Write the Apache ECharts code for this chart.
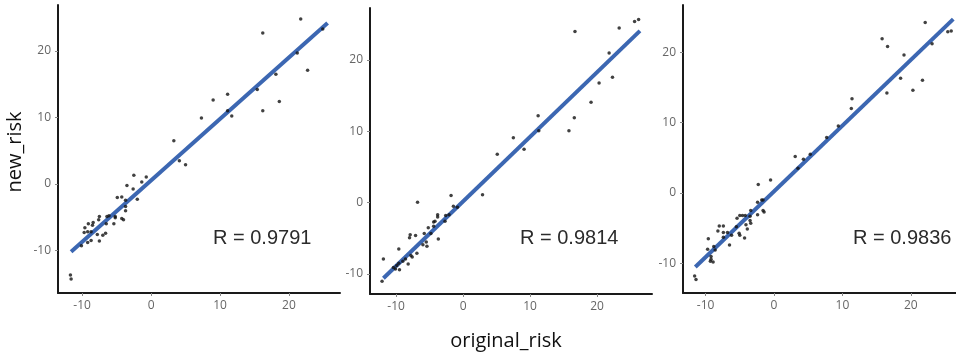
<!DOCTYPE html>
<html>
<head>
<meta charset="utf-8">
<script src="https://cdn.jsdelivr.net/npm/echarts@6/dist/echarts.min.js"></script>
<style>
  html, body { margin: 0; padding: 0; background: #fff; }
  #chart_main { width: 956px; height: 353px; }
</style>
</head>
<body>
<div id="chart_main"></div>
<script type="text/javascript">
// [original_risk, new_risk]
var panel1Points = [
  [21.7,24.8],[24.9,23.3],[16.2,22.7],[21.2,19.7],[22.7,17.1],[18.1,16.5],[15.4,14.2],[11.1,13.5],
  [9.0,12.6],[18.6,12.4],[11.1,11.0],[16.2,11.0],[11.7,10.2],[7.3,9.9],[3.3,6.5],[4.1,3.5],[5.0,2.9],
  [-2.5,1.3],[-0.7,1.05],[-1.35,0.3],[-3.5,-0.25],[-2.6,-0.75],[-4.25,-1.95],[-4.9,-2.05],[-2.0,-2.3],
  [-3.7,-2.45],[-3.7,-3.4],[-3.7,-4.05],[-4.25,-5.2],[-4.0,-5.4],[-5.2,-4.9],[-5.2,-5.1],[-5.4,-6.0],
  [-6.1,-4.8],[-6.4,-4.9],[-6.5,-6.0],[-6.6,-7.4],[-7.0,-7.7],[-7.5,-4.9],[-7.6,-5.4],[-8.4,-5.8],
  [-8.5,-6.2],[-9.1,-6.0],[-9.6,-6.6],[-8.7,-7.2],[-9.2,-7.2],[-9.7,-7.3],[-7.8,-7.6],[-7.5,-8.6],
  [-8.7,-8.5],[-9.2,-8.8],[-10.1,-9.3],[-11.7,-13.7],[-11.6,-14.3]
];
var panel2Points = [
  [26.2,25.7],[25.6,25.4],[23.3,24.5],[16.7,24.0],[21.8,21.0],[22.3,17.6],[20.3,16.8],[19.1,14.1],
  [11.2,12.2],[16.6,11.9],[7.5,9.1],[11.3,10.1],[15.8,10.1],[9.1,7.5],[5.1,6.8],[2.9,1.1],[-1.8,1.0],
  [-6.8,0.05],[-1.45,-0.5],[-0.85,-0.65],[-2.1,-1.7],[-2.6,-1.8],[-3.8,-1.7],[-3.8,-2.0],[-4.2,-2.6],
  [-2.7,-2.6],[-4.4,-2.7],[-5.2,-3.5],[-4.4,-3.3],[-4.8,-4.3],[-3.7,-5.1],[-5.8,-4.3],[-5.5,-5.5],
  [-5.4,-6.1],[-6.0,-5.9],[-7.9,-4.5],[-8.0,-4.9],[-7.1,-4.6],[-6.9,-7.1],[-9.6,-6.5],[-7.8,-7.4],
  [-7.6,-7.6],[-8.6,-7.9],[-8.2,-8.6],[-9.0,-8.2],[-9.6,-8.5],[-9.9,-8.8],[-10.1,-9.3],[-9.5,-9.4],
  [-10.4,-9.1],[-11.9,-7.9],[-12.1,-11.0]
];
var panel3Points = [
  [22.1,24.2],[25.9,23.0],[25.4,22.9],[15.8,21.9],[16.6,20.8],[23.1,21.2],[19.0,19.6],[18.5,16.3],
  [21.7,16.0],[20.3,14.6],[16.5,14.2],[11.4,13.4],[11.3,12.0],[9.4,9.5],[7.7,7.9],[5.3,5.5],[3.1,5.2],
  [4.3,4.8],[3.5,3.5],[-0.5,1.85],[-2.3,1.2],[-1.8,-1.0],[-1.6,-1.0],[-2.4,-1.3],[-2.4,-3.1],
  [-1.6,-2.5],[-1.45,-2.7],[-3.4,-2.5],[-3.5,-3.3],[-3.5,-3.9],[-3.4,-4.3],[-5.0,-3.2],[-4.6,-3.2],
  [-4.2,-3.2],[-5.4,-3.6],[-4.1,-4.5],[-3.9,-5.1],[-5.5,-4.8],[-5.1,-5.7],[-5.0,-6.0],[-4.3,-6.4],
  [-6.2,-6.0],[-6.8,-5.6],[-7.4,-5.6],[-7.4,-6.3],[-8.0,-4.7],[-7.4,-4.7],[-8.2,-5.4],[-6.5,-7.4],
  [-9.6,-6.5],[-8.8,-7.6],[-9.7,-8.0],[-8.6,-8.1],[-9.2,-9.0],[-9.3,-9.7],[-8.9,-9.8],[-9.2,-9.4],
  [-11.6,-11.8],[-11.4,-12.3]
];
// fitted line end points
var fit1 = [[-11.6,-10.2],[25.6,24.2]];
var fit2 = [[-11.9,-10.6],[26.4,24.1]];
var fit3 = [[-11.5,-10.5],[26.2,24.7]];
var rLabels = ['R = 0.9791', 'R = 0.9814', 'R = 0.9836'];
var tickValues = [-10, 0, 10, 20];
var xRanges = [[-13.5,27.4],[-13.9,28.2],[-13.3,26.6]];
var yRanges = [[-16.4,26.9],[-12.8,27.3],[-14.2,26.7]];

var myChart = echarts.init(document.getElementById('chart_main'));
var pointSets = [panel1Points, panel2Points, panel3Points];
var fits = [fit1, fit2, fit3];
var grids = [
  {left:58, top:5, width:282, height:288},
  {left:370, top:8, width:282, height:286},
  {left:683, top:5, width:273, height:288}
];
var rPos = [213, 520, 853];

function axisCommon(){
  return {
    type:'value',
    axisLine:{show:true, onZero:false, lineStyle:{color:'#1a1a1a', width:2}},
    axisTick:{show:true, length:3, customValues:tickValues, lineStyle:{color:'#888'}},
    axisLabel:{customValues:tickValues, color:'#666', fontSize:12, fontFamily:'"Open Sans", sans-serif', margin:7},
    splitLine:{show:false}
  };
}

var xAxis = [], yAxis = [], series = [], graphic = [];
for (var i = 0; i < 3; i++) {
  var xa = axisCommon(); xa.gridIndex = i; xa.min = xRanges[i][0]; xa.max = xRanges[i][1];
  var ya = axisCommon(); ya.gridIndex = i; ya.min = yRanges[i][0]; ya.max = yRanges[i][1];
  xAxis.push(xa); yAxis.push(ya);
  series.push({
    type:'scatter', xAxisIndex:i, yAxisIndex:i, data:pointSets[i],
    symbolSize:3.5, itemStyle:{color:'#111'}, silent:true
  });
  series.push({
    type:'line', xAxisIndex:i, yAxisIndex:i, data:fits[i], symbol:'none',
    lineStyle:{color:'#3c67b2', width:4}, silent:true, z:1
  });
  graphic.push({
    type:'text', left:rPos[i], top:228,
    style:{text:rLabels[i], fill:'#2b2b2b', font:'20px "Liberation Sans", Arial, sans-serif'}
  });
}
graphic.push({
  type:'text', x:15, y:152, rotation:Math.PI/2,
  style:{text:'new_risk', fill:'#111', font:'20px "Open Sans", sans-serif', align:'center', verticalAlign:'middle'}
});
graphic.push({
  type:'text', x:506, y:341,
  style:{text:'original_risk', fill:'#111', font:'20px "Open Sans", sans-serif', align:'center', verticalAlign:'middle'}
});

var option = {
  animation:false,
  grid:grids,
  xAxis:xAxis,
  yAxis:yAxis,
  series:series,
  graphic:graphic
};
myChart.setOption(option);
</script>
</body>
</html>
